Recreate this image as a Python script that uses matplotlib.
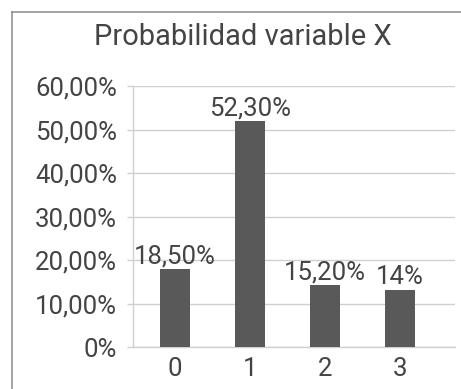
import matplotlib.pyplot as plt
from matplotlib.lines import Line2D

categories = ['0', '1', '2', '3']
bar_values = [0.180, 0.520, 0.143, 0.132]
bar_labels = ['18,50%', '52,30%', '15,20%', '14%']
y_ticks = [0.0, 0.1, 0.2, 0.3, 0.4, 0.5, 0.6]
y_tick_labels = ['0%', '10,00%', '20,00%', '30,00%', '40,00%', '50,00%', '60,00%']
title = 'Probabilidad variable X'

text_color = '#444444'
bar_color = '#595959'
grid_color = '#d0d0d0'

plt.rcParams['font.family'] = ['Roboto', 'DejaVu Sans']

W, H = 461, 389
fig = plt.figure(figsize=(W / 100, H / 100), dpi=100)
ax = fig.add_axes([132.7 / W, 1 - 347.3 / H, (455 - 132.7) / W, (347.3 - 86.3) / H])

x = list(range(len(categories)))
ax.bar(x, bar_values, width=0.41, color=bar_color, zorder=3)
for xi, v, lab in zip(x, bar_values, bar_labels):
    ax.text(xi, v + 0.013, lab, ha='center', va='baseline', fontsize=18.5,
            color=text_color)

ax.set_xlim(-0.564, 3.733)
ax.set_ylim(0, 0.6)
ax.set_yticks(y_ticks)
ax.set_yticklabels(y_tick_labels)
ax.set_xticks(x)
ax.set_xticklabels(categories)
ax.yaxis.grid(True, color=grid_color, linewidth=1.0, zorder=0)
ax.set_axisbelow(True)
for s in ['top', 'right']:
    ax.spines[s].set_visible(False)
for s in ['left', 'bottom']:
    ax.spines[s].set_color(grid_color)
    ax.spines[s].set_linewidth(1.0)
ax.tick_params(axis='y', length=4.3, width=1.0, color=grid_color, pad=7,
               labelsize=18.5, labelcolor=text_color)
ax.tick_params(axis='x', length=0, pad=7, labelsize=18.5, labelcolor=text_color)

fig.text(243 / W, 1 - 45 / H, title, ha='center', va='baseline', fontsize=21,
         color=text_color)

# chart frame, cut off at right and bottom
fig.add_artist(Line2D([12 / W, 12 / W], [0, 1 - 12 / H], transform=fig.transFigure,
                      color='#8a8a8a', linewidth=1.1))
fig.add_artist(Line2D([12 / W, 1], [1 - 12 / H, 1 - 12 / H], transform=fig.transFigure,
                      color='#8a8a8a', linewidth=1.1))

fig.savefig('out.png', dpi=100)
